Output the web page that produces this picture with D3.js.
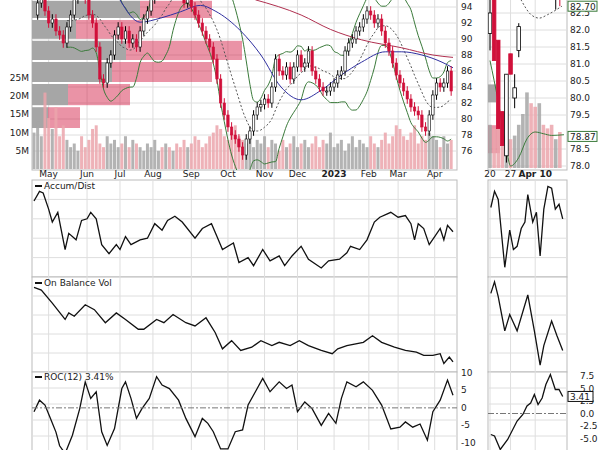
<!DOCTYPE html><html><head><meta charset="utf-8"><script src="https://cdn.jsdelivr.net/npm/d3@7"></script>
<style>body{margin:0;background:#fff}text{font-family:"DejaVu Sans",sans-serif;font-size:9px;fill:#222}</style></head><body><svg id="c" width="600" height="450"></svg><script>
// ---- data (each close = one point every 2 trading days) ----
const closes=[93,94.5,95,93.5,92,92.5,91,90.5,89.5,91.5,93,95,96,95.5,95,93,92,89,85,84.5,87,88,90.5,91.5,90,91,89.5,90,89,91,92.5,93.5,95,96,97,96.5,97.5,96,97,96,95.5,94.5,95.5,94,93,92,91,90,89,87.5,85,82,80.5,79,78,77.5,76.5,75.5,77.5,78.5,80.5,81.5,81.8,82.5,82,84,87.5,86,85.5,86.5,85,86.5,88,86.5,87,88.5,86,85,84,83.5,83.5,84,84.5,85.5,86,88.5,89.5,90,91,91.5,92.5,93.5,93,92,92.5,91,89.5,88.5,87,85.5,84.5,83.5,82.5,81.5,81,80.5,79,78.5,80.5,83,84.5,84,84.5,86,83.5];
const volumes=[10,13,9,21,14,11,17,9,12,8,6,7,5,9,6,8,11,12,7,6,9,7,8,6,7,9,6,8,7,6,5,7,6,8,5,6,7,6,5,7,6,8,6,7,9,8,6,7,9,10,12,11,9,8,10,12,9,8,7,9,6,8,7,9,6,8,7,5,8,6,7,9,6,7,8,6,7,9,6,8,7,10,6,7,8,5,7,9,6,8,7,6,9,7,6,8,10,7,9,12,11,9,8,10,12,7,9,8,10,9,8,6,9,7,8];
const sma50=[[47,94.9],[58,92.1],[69,92.6],[80,93.4],[91,94.2],[99,93.5],[113,91],[124,88],[135,84],[146,82.4],[157,83.6],[168,85.5],[179,87.1],[192,88.4],[201,88.4],[212,88],[223,87.1],[229,86.4]];
const sma200=[[121,94.9],[146,93],[162,91.2],[179,89.9],[201,88.9],[218,88],[229,87.7]];
const vbpLow=[94.9,92.5,89.9,87.25,84.5,81.6,78.75];
const vbpHigh=[97.5,94.9,92.5,89.9,87.25,84.5,81.6];
const vbpDown=[27,54,22,47,40,18,8];
const vbpUp=[17,36,33,58,50,31,16];
const monthTicks=[[8,"May"],[29,"Jun"],[47,"Jul"],[65,"Aug"],[86,"Sep"],[106,"Oct"],[126,"Nov"],[144,"Dec"],[164,"2023"],[183,"Feb"],[199,"Mar"],[219,"Apr"]];
const priceTicks=[76,78,80,82,84,86,88,90,92,94];
const volTicks=[5,10,15,20,25];
const accDist=[[0,23.5],[3,26.5],[5,26],[8,21],[10,17],[13,20],[17,8.5],[19,13.5],[23,11.5],[26,17.5],[29,18],[31,20],[34,18],[37,10],[41,7.2],[45,10],[47,8.5],[50,12.5],[53,10],[58,11.5],[62,12],[66,16.5],[70,14.5],[73,17.5],[77,18.8],[81,17],[88,12],[92,15],[97,16.5],[100,12.5],[103,8.5],[109,10.5],[112,4.5],[117,6],[120,3.5],[125,8.5],[129,5],[134,6.5],[137,3.5],[141,6.5],[146,9.5],[150,5.5],[157,2.8],[161,5],[167,5.5],[171,7.5],[173,9.5],[178,8.5],[182,11.5],[186,17],[189,18.5],[195,20],[199,18.5],[203,19],[206,16.5],[208,11.5],[210,16.5],[213,15],[216,10],[219,12.5],[222,15],[224,11.5],[226,16],[229,14]];
const obv=[[0,27.8],[4,27],[10,23],[17,18],[19,20],[22,19],[28,22.5],[33,21],[39,17],[45,20],[50,18],[57,15],[60,15],[67,18],[71,17],[76,19.5],[83,17],[88,16],[94,18.5],[99,14],[103,9],[108,11.5],[113,8.5],[119,9.5],[124,11.5],[130,10],[134,11],[140,10],[145,11.5],[150,10],[157,8.5],[163,7.5],[166,9],[171,10],[180,11],[185,13],[190,11],[197,9.5],[203,8.5],[209,8],[213,7],[218,7],[222,7.5],[224,4.5],[227,6.5],[229,5]];
const roc=[[0,-1.1],[3,2.2],[6,0.8],[9,-3],[12,-6.9],[14,-10.8],[17,-13],[21,-7.8],[25,-0.2],[28,7.4],[31,2.7],[34,4.6],[37,-6.8],[40,-10.7],[44,-5.9],[48,5.5],[50,7.4],[53,2.7],[56,-3],[59,-0.2],[63,2.7],[67,8.9],[70,6.5],[74,5.5],[79,2.2],[83,-3],[88,-8.2],[92,-3],[95,-4.4],[98,-6.8],[102,-11.7],[106,-11.7],[110,-6.8],[114,-6.3],[117,0.8],[121,4.6],[125,8.4],[129,4.6],[134,7.4],[138,5.5],[141,6.5],[144,-1.1],[148,1.7],[152,-0.2],[157,-5],[161,-1.6],[165,-4.4],[168,2.7],[171,7.4],[176,6],[180,7.4],[185,5],[190,0.8],[195,-6],[200,-5.5],[203,-4],[207,-5.5],[211,-4.6],[215,-9.2],[218,-1.1],[222,2.2],[226,7.9],[229,3.6]];
// right (recent, zoomed) panel
const rDays=[0,1,2,3,4,5,6,7,8,9,10,11,12,13,14,15,16,17];
const rOpen=[81.9,82.9,81.7,79.6,78.3,81.3,80.0,81.4,84,84.5,85,84.6,84.2,85,84.8,84.4,83.2,83.6];
const rClose=[82.5,81.1,79.1,78.6,80.7,80.7,80.3,82.1,84.5,85,84.6,84.2,85,84.8,84.4,83.6,84,82.9];
const rHigh=[82.9,82.9,81.7,79.6,80.7,81.3,80.7,82.2,85,85.5,85.2,84.8,85.3,85.2,85,84.6,84.3,83.7];
const rLow=[81.4,81.1,79.1,78.6,78.1,80.7,79.7,81.2,83.8,84.3,84.4,84,84,84.6,84.2,83.4,82.6,82.7];
const rVol=[12,11,14,12,7,8,9,12,15,21,18,17,18,12,11,12,8,10];
const rMid=[[7.5,82.9],[10,82.45],[12,82.35],[14,82.45],[17.5,82.7]];
const rLowBand=[[0,81.1],[2,79.9],[4,78.5],[5,78.0],[7,78.25],[9,78.8],[11,79.0],[13,78.95],[15,78.9],[18,78.92]];
const rPriceTicks=[78.0,78.5,79.5,80.0,80.5,81.0,81.5,82.0,82.5];
const rAcc=[[0.2,21.5],[1.1,26.5],[2,24],[3.6,3],[4.8,14.5],[5.7,8.5],[6.6,9.5],[7.6,15],[8.5,17],[9.2,25.5],[10.4,17],[11.3,20],[12.2,6.5],[13.1,21],[14.1,28],[15,27.5],[15.9,21],[16.8,22.5],[17.7,18]];
const rObv=[[0.2,26],[1.1,29.5],[2,25],[3.6,14.5],[4.8,19.5],[6.6,14.5],[9.2,25.5],[10.8,14.5],[12.2,4],[13.1,10],[15,17.5],[16.3,13],[17.7,8.5]];
const rRoc=[[0.2,-4.2],[1.1,-4.5],[2.5,-7.2],[4.3,-5.2],[6.6,-1.5],[8,-0.2],[9,1.5],[9.9,2.1],[10.8,3.8],[11.7,1.8],[12.7,3.1],[13.6,5.8],[14.7,7.8],[15.9,4.8],[16.8,4.8],[17.7,3.4]];
const rRocTicks=[-5,-2.5,0,2.5,5,7.5];
const rDateTicks=[[0,"20"],[5,"27"],[11,"Apr 10"]];
const rocTicks=[-10,-5,0,5,10];

const svg=d3.select("#c");
const RED="#d0103a",PINK="#eba4ab",GREY="#a6a6a6",GRID="#dedede";
const x=d3.scaleLinear().domain([0,229]).range([34,453]);
const y=d3.scaleLinear().domain([94,76]).range([7,151]);
const yv=d3.scaleLinear().domain([0,25]).range([169,78]);
const xr=d3.scaleLinear().domain([0,18.5]).range([490,566]);
const yr=d3.scaleLinear().domain([82.5,78]).range([13,166]);
const yvr=d3.scaleLinear().domain([0,25]).range([168,78]);
const days=closes.map((c,i)=>i*2);
const P={L:32,R:457,T:0,B:170};
function clip(id,x0,y0,w,h){svg.append("clipPath").attr("id",id).append("rect").attr("x",x0).attr("y",y0).attr("width",w).attr("height",h);}
clip("cm",P.L,0,P.R-P.L,P.B);clip("cr",488,0,567-488,P.B);
// frames & grid
function frame(x0,x1,y0,y1){svg.append("rect").attr("x",x0).attr("y",y0).attr("width",x1-x0).attr("height",y1-y0).attr("fill","#fff").attr("stroke","#bbb");}
frame(P.L,P.R,-1,P.B);frame(488,567,-1,P.B);
const panels=[[180,277],[277,372],[372,452]];
panels.forEach(p=>{frame(P.L,P.R,p[0],p[1]);frame(488,567,p[0],p[1]);});
const gm=svg.append("g");
monthTicks.forEach(t=>{[[0,P.B],...panels].forEach(p=>gm.append("line").attr("x1",x(t[0])).attr("x2",x(t[0])).attr("y1",p[0]).attr("y2",p[1]).attr("stroke",GRID));});
priceTicks.forEach(v=>gm.append("line").attr("x1",P.L).attr("x2",P.R).attr("y1",y(v)).attr("y2",y(v)).attr("stroke",GRID));
rDateTicks.forEach(t=>{[[0,P.B],...panels].forEach(p=>gm.append("line").attr("x1",xr(t[0])).attr("x2",xr(t[0])).attr("y1",p[0]).attr("y2",p[1]).attr("stroke",GRID));});
rPriceTicks.forEach(v=>gm.append("line").attr("x1",488).attr("x2",567).attr("y1",yr(v)).attr("y2",yr(v)).attr("stroke",GRID));
panels.forEach(p=>{for(let k=1;k<5;k++){const yy=p[0]+(p[1]-p[0])*k/5;gm.append("line").attr("x1",P.L).attr("x2",P.R).attr("y1",yy).attr("y2",yy).attr("stroke",GRID);gm.append("line").attr("x1",488).attr("x2",567).attr("y1",yy).attr("y2",yy).attr("stroke",GRID);}});
// main panel
const m=svg.append("g").attr("clip-path","url(#cm)");
const vx=d3.scaleLinear().domain([0,60]).range([P.L,P.L+120]);
vbpLow.forEach((lo,i)=>{const y0=y(vbpHigh[i])+1,h=y(lo)-y(vbpHigh[i])-2;
 m.append("rect").attr("x",P.L).attr("y",y0).attr("width",vx(vbpDown[i])-P.L).attr("height",h).attr("fill",GREY);
 m.append("rect").attr("x",vx(vbpDown[i])).attr("y",y0).attr("width",vx(vbpUp[i])-P.L).attr("height",h).attr("fill",RED).attr("opacity",0.45);});
volumes.forEach((v,i)=>{const up=i==0||closes[i]>=closes[i-1];
 m.append("rect").attr("x",x(days[i])-1.5).attr("y",yv(v)).attr("width",3).attr("height",yv(0)-yv(v)).attr("fill",up?GREY:PINK).attr("opacity",0.85);});
// bollinger from closes (10 pts = 20 days)
const mid=[],upb=[],lob=[];
closes.forEach((c,i)=>{if(i<9)return;const w=closes.slice(i-9,i+1),mu=d3.mean(w),sd=d3.deviation(w)*Math.sqrt(9/10);mid.push([days[i],mu]);upb.push([days[i],mu+2*sd]);lob.push([days[i],mu-2*sd]);});
const ln=d3.line().x(d=>x(d[0])).y(d=>y(d[1])).curve(d3.curveMonotoneX);
m.append("path").attr("d",ln(upb)).attr("fill","none").attr("stroke","#3a7a3a").attr("stroke-width",1);
m.append("path").attr("d",ln(lob)).attr("fill","none").attr("stroke","#3a7a3a").attr("stroke-width",1);
m.append("path").attr("d",ln(mid)).attr("fill","none").attr("stroke","#555").attr("stroke-dasharray","2,2");
m.append("path").attr("d",ln(sma200)).attr("fill","none").attr("stroke","#b03050").attr("stroke-width",1);
m.append("path").attr("d",ln(sma50)).attr("fill","none").attr("stroke","#3030a0").attr("stroke-width",1);
closes.forEach((c,i)=>{if(i==0)return;const o=closes[i-1],up=c>=o,hi=Math.max(o,c)+0.6,lo=Math.min(o,c)-0.6;
 m.append("line").attr("x1",x(days[i])).attr("x2",x(days[i])).attr("y1",y(hi)).attr("y2",y(lo)).attr("stroke",up?"#000":RED);
 m.append("rect").attr("x",x(days[i])-1.2).attr("y",y(Math.max(o,c))).attr("width",2.4).attr("height",Math.max(1,Math.abs(y(o)-y(c)))).attr("fill",up?"#fff":RED).attr("stroke",up?"#000":RED).attr("stroke-width",0.6);});
priceTicks.forEach(v=>svg.append("text").attr("x",461).attr("y",y(v)+3).text(v));
volTicks.forEach(v=>svg.append("text").attr("x",29).attr("y",yv(v)+3).attr("text-anchor","end").text(v+"M"));
monthTicks.forEach(t=>svg.append("text").attr("x",x(t[0])).attr("y",177).attr("text-anchor","middle").style("font-weight",t[1]=="2023"?"bold":"normal").text(t[1]));
// right panel
const r=svg.append("g").attr("clip-path","url(#cr)");
r.append("rect").attr("x",488).attr("y",yr(80.4)).attr("width",8).attr("height",18).attr("fill",GREY);
r.append("rect").attr("x",488).attr("y",yr(79.2)).attr("width",12).attr("height",28).attr("fill",RED).attr("opacity",0.45);
rVol.forEach((v,i)=>{const up=rClose[i]>=rOpen[i];r.append("rect").attr("x",xr(rDays[i])-1.8).attr("y",yvr(v)).attr("width",3.6).attr("height",yvr(0)-yvr(v)).attr("fill",up?GREY:PINK).attr("opacity",0.85);});
const lr=d3.line().x(d=>xr(d[0])).y(d=>yr(d[1])).curve(d3.curveMonotoneX);
r.append("path").attr("d",lr(rMid)).attr("fill","none").attr("stroke","#555").attr("stroke-dasharray","2,2");
r.append("path").attr("d",lr(rLowBand)).attr("fill","none").attr("stroke","#3a7a3a");
rDays.forEach((d,i)=>{const up=rClose[i]>=rOpen[i],col=up?"#000":RED;
 r.append("line").attr("x1",xr(d)).attr("x2",xr(d)).attr("y1",yr(rHigh[i])).attr("y2",yr(rLow[i])).attr("stroke",col);
 r.append("rect").attr("x",xr(d)-1.8).attr("y",yr(Math.max(rOpen[i],rClose[i]))).attr("width",3.6).attr("height",Math.abs(yr(rOpen[i])-yr(rClose[i]))).attr("fill",up?"#fff":RED).attr("stroke",col).attr("stroke-width",0.8);});
rPriceTicks.forEach(v=>svg.append("text").attr("x",570).attr("y",yr(v)+3).text(v.toFixed(1)));
function tag(v,yy,c){svg.append("rect").attr("x",568).attr("y",yy-5).attr("width",29).attr("height",10).attr("fill","#fff").attr("stroke",c);svg.append("text").attr("x",570).attr("y",yy+3.5).text(v);}
tag("82.70",yr(82.7),"#3a7a3a");tag("78.87",yr(78.87),"#3a7a3a");
rDateTicks.forEach(t=>svg.append("text").attr("x",xr(t[0])).attr("y",177).attr("text-anchor","middle").style("font-weight",t[1]=="Apr 10"?"bold":"normal").text(t[1]));
// indicators
function ind(data,dom,p,xs,label){const ys=d3.scaleLinear().domain(dom).range([p[1],p[0]]);
 svg.append("path").attr("d",d3.line().x(d=>xs(d[0])).y(d=>ys(d[1]))(data)).attr("fill","none").attr("stroke","#111").attr("stroke-width",1.3);
 if(label){svg.append("rect").attr("x",35).attr("y",p[0]+5).attr("width",7).attr("height",2).attr("fill","#111");svg.append("text").attr("x",44).attr("y",p[0]+9).text(label);}return ys;}
ind(accDist,[0,30],[180,277],x,"Accum/Dist");
ind(obv,[1.6,31],[277,373],x,"On Balance Vol");
const yroc=ind(roc,[-12,10.5],[371,450],x,"ROC(12) 3.41%");
svg.append("line").attr("x1",P.L).attr("x2",P.R).attr("y1",yroc(0)).attr("y2",yroc(0)).attr("stroke","#777").attr("stroke-dasharray","6,2,2,2");
rocTicks.forEach(v=>svg.append("text").attr("x",461).attr("y",yroc(v)+3).text(v));
ind(rAcc,[0,30],[180,277],xr);ind(rObv,[1.6,31],[277,373],xr);
const yrr=ind(rRoc,[-7.3,8.5],[371,450],xr);
svg.append("line").attr("x1",488).attr("x2",567).attr("y1",yrr(0)).attr("y2",yrr(0)).attr("stroke","#777").attr("stroke-dasharray","6,2,2,2");
rRocTicks.forEach(v=>svg.append("text").attr("x",580).attr("y",yrr(v)+3).text(v.toFixed(1)));
svg.append("rect").attr("x",568).attr("y",yrr(3.41)-5).attr("width",25).attr("height",10).attr("fill","#fff").attr("stroke","#111");
svg.append("text").attr("x",570).attr("y",yrr(3.41)+3.5).text("3.41");
</script></body></html>
